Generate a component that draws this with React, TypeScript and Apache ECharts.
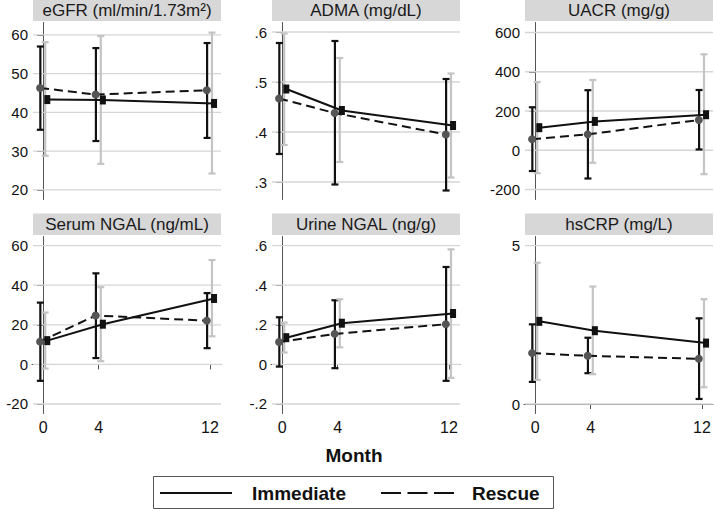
import React, { useEffect, useRef } from "react";
import * as echarts from "echarts";

const months = [0, 4, 12];
const panelTitles = [
  "eGFR (ml/min/1.73m²)",
  "ADMA (mg/dL)",
  "UACR (mg/g)",
  "Serum NGAL (ng/mL)",
  "Urine NGAL (ng/g)",
  "hsCRP (mg/L)",
];

// eGFR
const egfrImmMean = [43.3, 43.2, 42.3];
const egfrImmLow = [28.8, 26.7, 24.2];
const egfrImmHigh = [58.1, 59.7, 60.6];
const egfrResMean = [46.3, 44.6, 45.7];
const egfrResLow = [35.5, 32.6, 33.4];
const egfrResHigh = [57.0, 56.6, 57.9];
const egfrTicks = [20, 30, 40, 50, 60];

// ADMA
const admaImmMean = [0.486, 0.443, 0.413];
const admaImmLow = [0.374, 0.34, 0.309];
const admaImmHigh = [0.597, 0.548, 0.517];
const admaResMean = [0.467, 0.438, 0.395];
const admaResLow = [0.356, 0.295, 0.283];
const admaResHigh = [0.578, 0.582, 0.506];
const admaTicks = [0.3, 0.4, 0.5, 0.6];

// UACR
const uacrImmMean = [115, 147, 181];
const uacrImmLow = [-117, -64, -122];
const uacrImmHigh = [348, 358, 489];
const uacrResMean = [56, 81, 154];
const uacrResLow = [-106, -144, 4];
const uacrResHigh = [219, 306, 307];
const uacrTicks = [-200, 0, 200, 400, 600];

// Serum NGAL
const sngalImmMean = [12, 20.3, 33.3];
const sngalImmLow = [-2.1, 1.6, 14.2];
const sngalImmHigh = [26.2, 39, 52.7];
const sngalResMean = [11.5, 24.7, 22.1];
const sngalResLow = [-8.3, 3.2, 8.2];
const sngalResHigh = [31.2, 46, 36];
const sngalTicks = [-20, 0, 20, 40, 60];

// Urine NGAL
const ungalImmMean = [0.135, 0.208, 0.257];
const ungalImmLow = [0.06, 0.086, -0.068];
const ungalImmHigh = [0.211, 0.329, 0.581];
const ungalResMean = [0.113, 0.154, 0.203];
const ungalResLow = [-0.011, -0.019, -0.083];
const ungalResHigh = [0.238, 0.324, 0.492];
const ungalTicks = [-0.2, 0, 0.2, 0.4, 0.6];

// hsCRP
const crpImmMean = [2.61, 2.315, 1.924];
const crpImmLow = [0.761, 0.941, 0.529];
const crpImmHigh = [4.461, 3.71, 3.309];
const crpResMean = [1.607, 1.522, 1.427];
const crpResLow = [0.698, 0.973, 0.159];
const crpResHigh = [2.516, 2.093, 2.706];
const crpTicks = [0, 5];

const panels = [
  { title: panelTitles[0], imm: [egfrImmMean, egfrImmLow, egfrImmHigh], res: [egfrResMean, egfrResLow, egfrResHigh], ticks: egfrTicks, range: [17.5, 63.2] },
  { title: panelTitles[1], imm: [admaImmMean, admaImmLow, admaImmHigh], res: [admaResMean, admaResLow, admaResHigh], ticks: admaTicks, range: [0.265, 0.619] },
  { title: panelTitles[2], imm: [uacrImmMean, uacrImmLow, uacrImmHigh], res: [uacrResMean, uacrResLow, uacrResHigh], ticks: uacrTicks, range: [-251, 651] },
  { title: panelTitles[3], imm: [sngalImmMean, sngalImmLow, sngalImmHigh], res: [sngalResMean, sngalResLow, sngalResHigh], ticks: sngalTicks, range: [-24.8, 64.6] },
  { title: panelTitles[4], imm: [ungalImmMean, ungalImmLow, ungalImmHigh], res: [ungalResMean, ungalResLow, ungalResHigh], ticks: ungalTicks, range: [-0.248, 0.646] },
  { title: panelTitles[5], imm: [crpImmMean, crpImmLow, crpImmHigh], res: [crpResMean, crpResLow, crpResHigh], ticks: crpTicks, range: [-0.3, 5.29] },
];

const FONT = "'Liberation Sans', Arial, Helvetica, sans-serif";
const X_MIN = -0.8;
const X_MAX = 12.8;
const colLefts = [32, 271, 524];
const rowTops = [22.5, 236.5];
const plotW = 189;
const plotH = 177;

function fmtTick(v: number): string {
  if (Math.abs(v) < 1e-9) return "0";
  let s = String(Math.round(v * 1000) / 1000);
  s = s.replace(/^0\./, ".").replace(/^-0\./, "-.");
  return s;
}

function errorBars(idx: number, lows: number[], highs: number[], offset: number, color: string) {
  return {
    type: "custom",
    xAxisIndex: idx,
    yAxisIndex: idx,
    silent: true,
    data: months.map((m, i) => [m + offset, lows[i], highs[i]]),
    encode: { x: 0, y: [1, 2] },
    renderItem: (params: any, api: any) => {
      const x = api.value(0);
      const lo = api.coord([x, api.value(1)]);
      const hi = api.coord([x, api.value(2)]);
      const cap = 3.5;
      const st = { stroke: color, lineWidth: 2.2 };
      return {
        type: "group",
        children: [
          { type: "line", shape: { x1: lo[0], y1: lo[1], x2: hi[0], y2: hi[1] }, style: st },
          { type: "line", shape: { x1: lo[0] - cap, y1: lo[1], x2: lo[0] + cap, y2: lo[1] }, style: st },
          { type: "line", shape: { x1: hi[0] - cap, y1: hi[1], x2: hi[0] + cap, y2: hi[1] }, style: st },
        ],
      };
    },
  };
}

export default function App() {
  const ref = useRef<HTMLDivElement>(null);
  useEffect(() => {
    if (!ref.current) return;
    const chart = echarts.init(ref.current, undefined, { renderer: "svg" });
    const grids: any[] = [];
    const xAxes: any[] = [];
    const yAxes: any[] = [];
    const series: any[] = [];
    const graphics: any[] = [];

    panels.forEach((p, i) => {
      const col = i % 3;
      const row = Math.floor(i / 3);
      const left = colLefts[col];
      const top = rowTops[row];
      grids.push({ left, top, width: plotW, height: plotH, containLabel: false });
      xAxes.push({
        type: "value",
        gridIndex: i,
        min: X_MIN,
        max: X_MAX,
        show: row === 1,
        axisLine: { show: true, lineStyle: { color: "#555", width: 1 } },
        axisTick: { show: true, length: 5, customValues: months, lineStyle: { color: "#555" } },
        axisLabel: { customValues: months, fontSize: 16, color: "#111", fontFamily: FONT, margin: 6 },
        splitLine: { show: false },
      });
      yAxes.push({
        type: "value",
        gridIndex: i,
        min: p.range[0],
        max: p.range[1],
        axisLine: { show: true, lineStyle: { color: "#555", width: 1 } },
        axisTick: { show: true, length: 6, customValues: p.ticks, lineStyle: { color: "#555" } },
        axisLabel: { customValues: p.ticks, formatter: (v: number) => fmtTick(v), fontSize: 15, color: "#111", fontFamily: FONT, margin: 4 },
        splitLine: { show: false },
      });

      // gridlines at tick values, drawn as plain line series
      p.ticks.forEach((t) => {
        series.push({
          type: "line",
          xAxisIndex: i,
          yAxisIndex: i,
          silent: true,
          z: 1,
          symbol: "none",
          data: [
            [X_MIN + 0.07, t],
            [X_MAX, t],
          ],
          lineStyle: { color: "#d6d6d6", width: 1.3 },
        });
      });

      series.push(errorBars(i, p.res[1], p.res[2], -0.2, "#111"));
      series.push({
        type: "line",
        name: "Rescue",
        xAxisIndex: i,
        yAxisIndex: i,
        data: months.map((m, k) => [m - 0.22, p.res[0][k]]),
        lineStyle: { color: "#111", width: 2, type: [9, 5] },
        symbol: "circle",
        symbolSize: 8,
        itemStyle: { color: "#555" },
        silent: true,
      });
      series.push({
        type: "line",
        name: "Immediate",
        xAxisIndex: i,
        yAxisIndex: i,
        data: months.map((m, k) => [m + 0.3, p.imm[0][k]]),
        lineStyle: { color: "#111", width: 2, type: "solid" },
        symbol: "rect",
        symbolSize: [6, 9],
        itemStyle: { color: "#111" },
        silent: true,
      });
      series.push(errorBars(i, p.imm[1], p.imm[2], 0.15, "#c4c4c4"));

      graphics.push({
        type: "rect",
        shape: { x: left + 1, y: top - 23, width: plotW - 1, height: 21.5 },
        style: { fill: "#d7d7d7" },
        silent: true,
      });
      graphics.push({
        type: "text",
        x: left + 1 + (plotW - 1) / 2,
        y: top - 23 + 11,
        style: { text: p.title, fontSize: 17, fontFamily: FONT, fill: "#1a1a1a", align: "center", verticalAlign: "middle" },
        silent: true,
      });
    });

    graphics.push({
      type: "text",
      x: 354,
      y: 455,
      style: { text: "Month", fontSize: 19, fontWeight: "bold", fontFamily: FONT, fill: "#111", align: "center", verticalAlign: "middle" },
    });
    graphics.push({
      type: "rect",
      shape: { x: 153.5, y: 476.5, width: 400, height: 32 },
      style: { fill: "#fff", stroke: "#555", lineWidth: 1 },
    });
    graphics.push({
      type: "line",
      shape: { x1: 160, y1: 493, x2: 232, y2: 493 },
      style: { stroke: "#111", lineWidth: 2 },
    });
    graphics.push({
      type: "text",
      x: 252,
      y: 493,
      style: { text: "Immediate", fontSize: 19, fontWeight: "bold", fontFamily: FONT, fill: "#111", align: "left", verticalAlign: "middle" },
    });
    graphics.push({
      type: "line",
      shape: { x1: 381, y1: 493, x2: 454, y2: 493 },
      style: { stroke: "#111", lineWidth: 2, lineDash: [20, 6.5] },
    });
    graphics.push({
      type: "text",
      x: 472,
      y: 493,
      style: { text: "Rescue", fontSize: 19, fontWeight: "bold", fontFamily: FONT, fill: "#111", align: "left", verticalAlign: "middle" },
    });

    chart.setOption({
      animation: false,
      backgroundColor: "#fff",
      textStyle: { fontFamily: FONT },
      grid: grids,
      xAxis: xAxes,
      yAxis: yAxes,
      series,
      graphic: graphics,
    });
    return () => chart.dispose();
  }, []);
  return <div ref={ref} style={{ position: "fixed", left: 0, top: 0, width: 714, height: 511 }} />;
}
